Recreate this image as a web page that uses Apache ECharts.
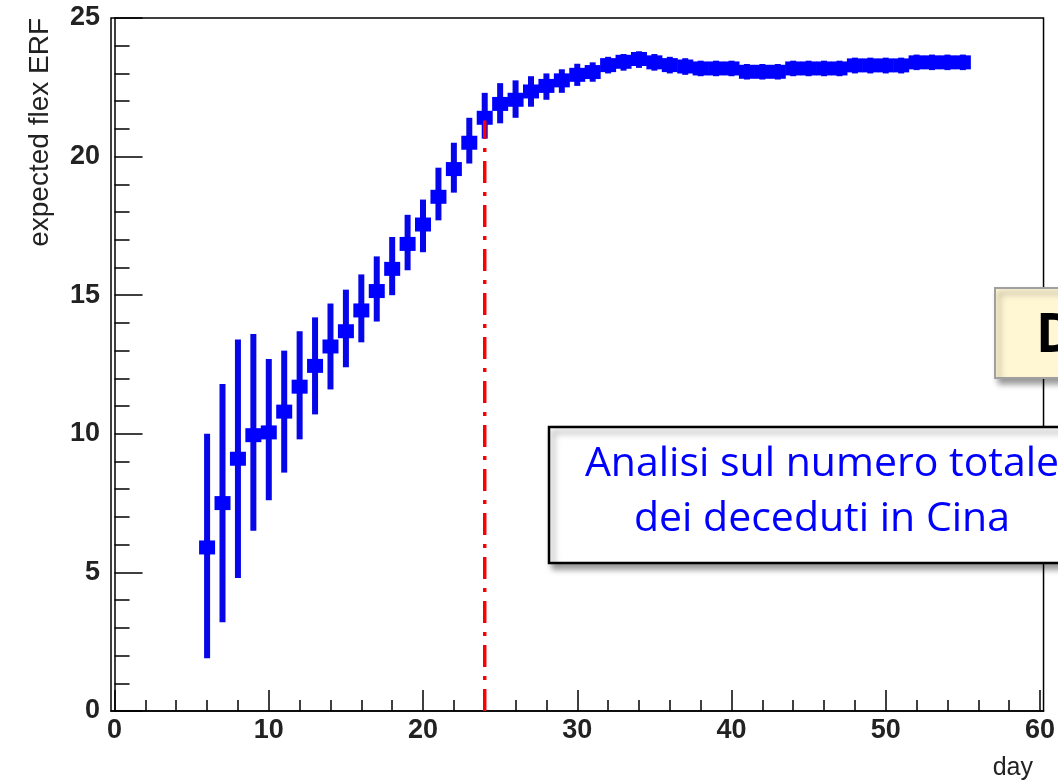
<!DOCTYPE html>
<html>
<head>
<meta charset="utf-8">
<script src="https://cdn.jsdelivr.net/npm/echarts@6/dist/echarts.min.js"></script>
<style>
html,body{margin:0;padding:0;background:#fff;}
#main{width:1058px;height:783px;}
</style>
</head>
<body>
<div id="main"></div>
<script>
// ---- data ----
const days = [6,7,8,9,10,11,12,13,14,15,16,17,18,19,20,21,22,23,24,25,26,27,28,29,30,
  31,32,33,34,35,36,37,38,39,40,41,42,43,44,45,46,47,48,49,50,51,52,53,54,55];
const values = [5.9,7.5,9.1,9.95,10.05,10.8,11.7,12.45,13.15,13.7,14.45,15.15,15.95,16.85,17.55,18.55,19.55,20.5,21.4,21.9,
  22.05,22.35,22.55,22.75,22.95,23.05,23.3,23.42,23.52,23.4,23.3,23.25,23.18,23.18,23.18,23.06,23.06,23.06,23.18,23.18,
  23.18,23.18,23.29,23.29,23.29,23.29,23.4,23.4,23.4,23.4];
const lows = [1.9,3.2,4.8,6.5,7.6,8.6,9.8,10.7,11.6,12.4,13.3,14.05,15.0,15.9,16.55,17.7,18.7,19.75,20.65,21.2,
  21.4,21.8,22.05,22.3,22.55,22.7,23.0,23.1,23.2,23.1,23.0,22.95,22.9,22.9,22.9,22.78,22.78,22.78,22.9,22.9,
  22.9,22.9,23.0,23.0,23.0,23.0,23.12,23.12,23.12,23.12];
const highs = [10.0,11.8,13.4,13.6,12.7,13.0,13.7,14.2,14.7,15.2,15.75,16.4,17.1,17.9,18.45,19.6,20.5,21.4,22.3,22.65,
  22.75,22.9,23.0,23.15,23.35,23.4,23.6,23.7,23.8,23.7,23.6,23.55,23.46,23.46,23.46,23.34,23.34,23.34,23.46,23.46,
  23.46,23.46,23.57,23.57,23.57,23.57,23.68,23.68,23.68,23.68];
const cutDay = 24;
const cutTop = 21.3;
const xMajorTicks = [0,10,20,30,40,50,60];
const xMinorTicks = [2,4,6,8,12,14,16,18,22,24,26,28,32,34,36,38,42,44,46,48,52,54,56,58];
const yTitle = 'expected flex ERF';
const xTitle = 'day';
const noteLines = ['Analisi sul numero totale', 'dei deceduti in Cina'];
const sideNote = 'D';

const points = days.map((d, i) => [d, values[i], lows[i], highs[i]]);
const cutLine = [[cutDay, 0], [cutDay, cutTop]];

const chart = echarts.init(document.getElementById('main'), null, {renderer: 'canvas'});
const labelFont = {fontFamily: 'Liberation Sans', fontSize: 27, fontWeight: 'bold', color: '#222'};

chart.setOption({
  animation: false,
  backgroundColor: '#fff',
  grid: {left: 111, right: 10, top: 18, bottom: 72, show: true, borderColor: '#000', borderWidth: 1.5, backgroundColor: 'transparent'},
  xAxis: [{
    type: 'value', min: -0.23, max: 60.23, position: 'bottom',
    axisLine: {show: true, lineStyle: {color: '#000', width: 1.5}},
    axisTick: {show: true, inside: true, length: 21, customValues: xMajorTicks, lineStyle: {color: '#000', width: 1.5}},
    axisLabel: Object.assign({show: true, margin: 6, customValues: xMajorTicks}, labelFont),
    splitLine: {show: false}
  }, {
    type: 'value', min: -0.23, max: 60.23, position: 'bottom',
    axisLine: {show: false},
    axisTick: {show: true, inside: true, length: 11, customValues: xMinorTicks, lineStyle: {color: '#000', width: 1.5}},
    axisLabel: {show: false},
    splitLine: {show: false}
  }],
  yAxis: {
    type: 'value', min: 0, max: 25, interval: 5,
    axisLine: {show: true, lineStyle: {color: '#000', width: 1.5}},
    axisTick: {show: true, inside: true, length: 28, lineStyle: {color: '#000', width: 1.5}},
    minorTick: {show: true, splitNumber: 5, length: 15, lineStyle: {color: '#000', width: 1.5}},
    axisLabel: Object.assign({margin: 11}, labelFont),
    splitLine: {show: false}
  },
  series: [{
    type: 'custom',
    xAxisIndex: 0,
    data: points,
    z: 3,
    renderItem: function (params, api) {
      const x = api.value(0);
      const pc = api.coord([x, api.value(1)]);
      const pl = api.coord([x, api.value(2)]);
      const ph = api.coord([x, api.value(3)]);
      return {
        type: 'group',
        children: [
          {type: 'line', shape: {x1: pl[0], y1: pl[1], x2: ph[0], y2: ph[1]}, style: {stroke: '#0606e8', lineWidth: 6}},
          {type: 'rect', shape: {x: pc[0] - 8, y: pc[1] - 7, width: 16, height: 14}, style: {fill: '#0000ff'}}
        ]
      };
    }
  }, {
    type: 'line',
    xAxisIndex: 0,
    data: cutLine,
    symbol: 'none',
    z: 5,
    lineStyle: {color: '#ff0000', width: 3.5, type: [22, 9, 4, 9]}
  }],
  graphic: [
    {type: 'text', z: 100, x: 40, y: 18, rotation: Math.PI / 2,
      style: {text: yTitle, fontFamily: 'Liberation Sans', fontSize: 28, fill: '#222', align: 'right', verticalAlign: 'middle'}},
    {type: 'text', z: 100, x: 1033, y: 756,
      style: {text: xTitle, fontFamily: 'Liberation Sans', fontSize: 25, fill: '#222', align: 'right', verticalAlign: 'top'}},
    {type: 'rect', z: 100, shape: {x: 995, y: 288, width: 120, height: 90},
      style: {fill: '#fff7d4', stroke: '#a0a0a0', lineWidth: 2, shadowBlur: 6, shadowOffsetX: 4, shadowOffsetY: 5, shadowColor: 'rgba(0,0,0,0.4)'}},
    {type: 'text', z: 101, x: 1036, y: 337,
      style: {text: sideNote, fontFamily: 'Open Sans', fontWeight: 'bold', fontSize: 53, fill: '#000', align: 'left', verticalAlign: 'middle'}},
    {type: 'rect', z: 100, shape: {x: 549, y: 427, width: 560, height: 136},
      style: {fill: '#fff', stroke: '#000', lineWidth: 2.5, shadowBlur: 6, shadowOffsetX: 4, shadowOffsetY: 5, shadowColor: 'rgba(0,0,0,0.4)'}},
    {type: 'text', z: 101, x: 822, y: 464,
      style: {text: noteLines[0], fontFamily: 'Open Sans', fontSize: 41, fill: '#0000ff', align: 'center', verticalAlign: 'middle'}},
    {type: 'text', z: 101, x: 822, y: 519,
      style: {text: noteLines[1], fontFamily: 'Open Sans', fontSize: 41, fill: '#0000ff', align: 'center', verticalAlign: 'middle'}}
  ]
});
</script>
</body>
</html>
